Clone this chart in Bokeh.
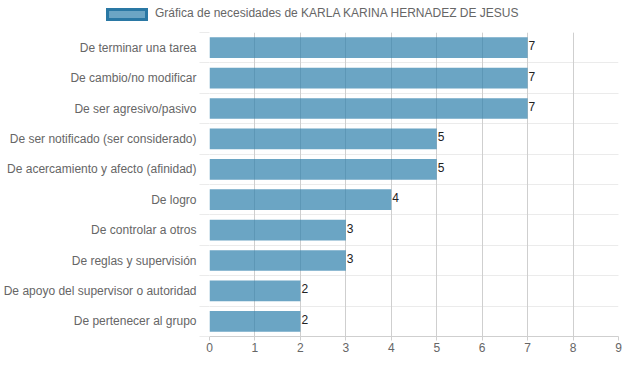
from bokeh.plotting import figure
from bokeh.layouts import column
from bokeh.models import (ColumnDataSource, Range1d, LinearAxis, FixedTicker, Grid, Div)
from bokeh.core.properties import value
from bokeh.embed import file_html
from bokeh.resources import INLINE

categories = [
    "De terminar una tarea",
    "De cambio/no modificar",
    "De ser agresivo/pasivo",
    "De ser notificado (ser considerado)",
    "De acercamiento y afecto (afinidad)",
    "De logro",
    "De controlar a otros",
    "De reglas y supervisión",
    "De apoyo del supervisor o autoridad",
    "De pertenecer al grupo",
]
values = [7, 7, 7, 5, 5, 4, 3, 3, 2, 2]
x_ticks = [0, 1, 2, 3, 4, 5, 6, 7, 8, 9]
series_name = "Gráfica de necesidades de KARLA KARINA HERNADEZ DE JESUS"

FONT = "Liberation Sans"
BAR = "#2c7fab"
GRID_V = "#cfcfcf"
GRID_H = "#ebebeb"

W, TOP_H, MAIN_H = 623, 32, 324

n = len(categories)
pos = [n - i - 0.5 for i in range(n)]          # category slots, first on top
bounds = list(range(n + 1))                     # slot boundaries

src = ColumnDataSource(dict(cat=categories, y=pos, val=values, lbl=[str(v) for v in values]))

# ---- legend strip (HTML) ----
legend_html = (
    '<div style="position:relative;width:%dpx;height:%dpx;">'
    '<div style="position:absolute;left:106px;top:8px;width:42px;height:13px;box-sizing:border-box;'
    'border:3px solid #2a78a4;background:rgba(44,127,171,0.7);"></div>'
    '<div style="position:absolute;left:155px;top:6px;font-family:\'%s\';font-size:12px;'
    'line-height:14px;color:#666666;white-space:nowrap;">%s</div>'
    '</div>' % (W, TOP_H, FONT, series_name)
)
top = Div(text=legend_html, width=W, height=TOP_H, margin=0)

# ---- main chart ----
p = figure(width=W, height=MAIN_H, output_backend="svg", toolbar_location=None,
           y_range=Range1d(0, n), x_range=Range1d(0, 9),
           x_axis_location=None, y_axis_location=None, margin=0)
p.min_border_left = 209
p.min_border_right = 5
p.min_border_top = 0
p.min_border_bottom = 20
p.outline_line_color = None
p.background_fill_color = "white"
p.border_fill_color = "white"

yticker = FixedTicker(ticks=pos, minor_ticks=bounds)
yaxis = LinearAxis(ticker=yticker, major_tick_line_color=None, major_tick_out=0, major_tick_in=0,
                   minor_tick_line_color=GRID_H, minor_tick_out=10, minor_tick_in=0,
                   axis_line_color=None, major_label_standoff=3,
                   major_label_overrides={pv: c for pv, c in zip(pos, categories)},
                   major_label_text_font=FONT, major_label_text_font_size="12px",
                   major_label_text_color="#666666")
p.add_layout(yaxis, "left")
p.add_layout(Grid(dimension=1, ticker=yticker, grid_line_color=None,
                  minor_grid_line_color=GRID_H, minor_grid_line_width=1), "center")

xticker = FixedTicker(ticks=x_ticks)
xaxis = LinearAxis(ticker=xticker, major_tick_out=4, major_tick_in=0,
                   major_tick_line_color=GRID_V, axis_line_color=GRID_V,
                   minor_tick_line_color=None, major_label_standoff=2,
                   major_label_text_font=FONT, major_label_text_font_size="12px",
                   major_label_text_color="#666666")
p.add_layout(xaxis, "below")
p.add_layout(Grid(dimension=0, ticker=xticker, grid_line_color=GRID_V, grid_line_width=1), "center")

p.hbar(y="y", right="val", left=0, height=0.68, source=src,
       fill_color=BAR, fill_alpha=0.7, line_color=None, legend_label=series_name)
p.legend.visible = False

p.text(x="val", y="y", text="lbl", source=src, x_offset=1, y_offset=-2,
       text_align="left", text_baseline="middle", text_font_size="12px",
       text_color="#222222", text_font=value(FONT))

layout = column(top, p, spacing=0)
open("out.html", "w").write(file_html(layout, INLINE))
